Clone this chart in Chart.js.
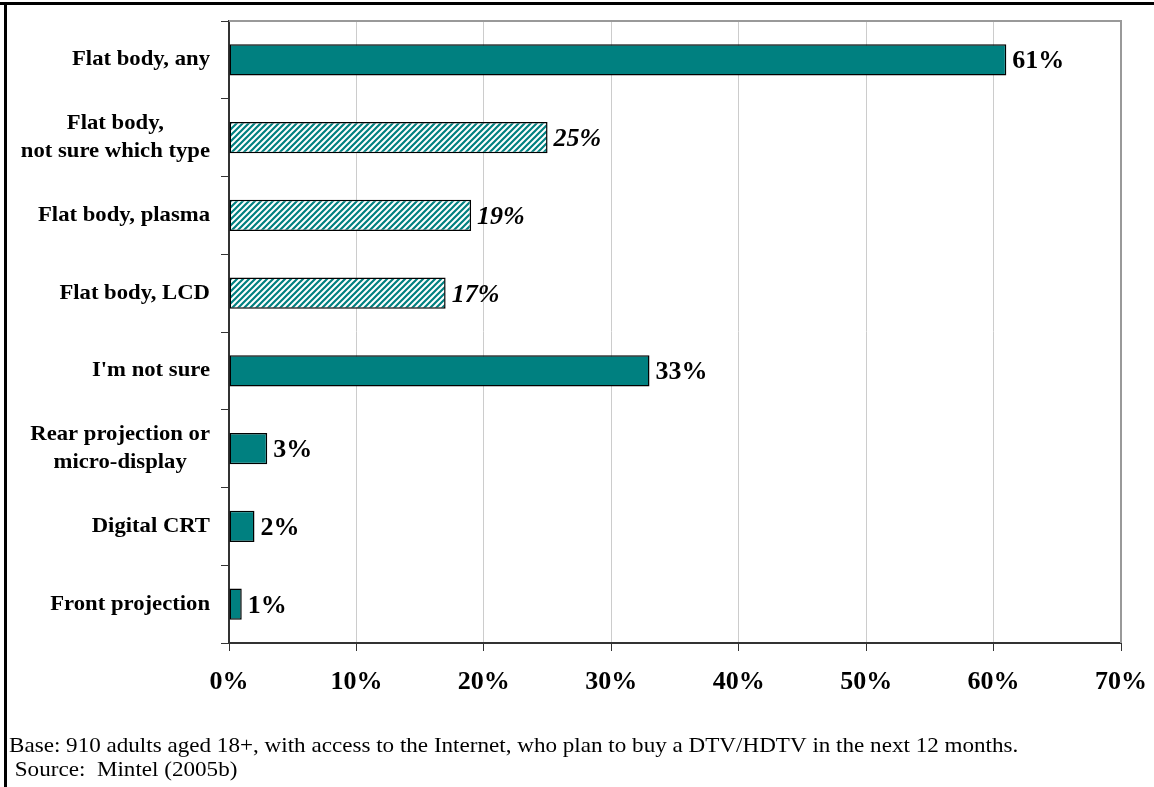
<!DOCTYPE html>
<html>
<head>
<meta charset="utf-8">
<script src="https://cdn.jsdelivr.net/npm/chart.js@4/dist/chart.umd.min.js"></script>
<style>
  html, body { margin: 0; padding: 0; background: #fff; }
  #wrap { position: relative; width: 1154px; height: 787px; }
</style>
</head>
<body>
<div id="wrap"><canvas id="tvChart" width="1154" height="787"></canvas></div>
<script>
// TV type planned for purchase, share of respondents
const categories = [
  ['Flat body, any'],
  ['Flat body,', 'not sure which type'],
  ['Flat body, plasma'],
  ['Flat body, LCD'],
  ["I'm not sure"],
  ['Rear projection or', 'micro-display'],
  ['Digital CRT'],
  ['Front projection']
];
const values = [61, 25, 19, 17, 33, 3, 2, 1];
// sub-types of flat body sets are drawn hatched
const hatched = [false, true, true, true, false, false, false, false];
const xMin = 0, xMax = 70, xStep = 10;

const footnotes = [
  'Base: 910 adults aged 18+, with access to the Internet, who plan to buy a DTV/HDTV in the next 12 months.',
  ' Source:  Mintel (2005b)'
];

const TEAL = '#008080';
const SERIF = '"Liberation Serif", "Times New Roman", serif';

const canvas = document.getElementById('tvChart');
const ctx = canvas.getContext('2d');

function makeHatch() {
  const s = 6;
  const c = document.createElement('canvas');
  c.width = s; c.height = s;
  const g = c.getContext('2d');
  g.fillStyle = '#fff';
  g.fillRect(0, 0, s, s);
  g.strokeStyle = TEAL;
  g.lineWidth = 2.2;
  g.beginPath();
  g.moveTo(0, s); g.lineTo(s, 0);
  g.moveTo(-1, 1); g.lineTo(1, -1);
  g.moveTo(s - 1, s + 1); g.lineTo(s + 1, s - 1);
  g.stroke();
  return ctx.createPattern(c, 'repeat');
}
const hatch = makeHatch();

// text drawn a touch wider than the stock serif
function wideText(c, text, x, y, align, sx) {
  const w = c.measureText(text).width * sx;
  let left = x;
  if (align === 'right') left = x - w;
  else if (align === 'center') left = x - w / 2;
  c.save();
  c.translate(left, y);
  c.scale(sx, 1);
  c.textAlign = 'left';
  c.fillText(text, 0, 0);
  c.restore();
}

const decor = {
  id: 'decor',
  afterDraw(chart) {
    const c = chart.ctx;
    const area = chart.chartArea;
    const y = chart.scales.y;
    const x = chart.scales.x;
    c.save();

    // page frame
    c.fillStyle = '#000';
    c.fillRect(0, 2, 1154, 3);
    c.fillRect(4, 3, 3, 784);

    // plot frame top and right
    c.strokeStyle = '#999';
    c.lineWidth = 2;
    c.beginPath();
    c.moveTo(area.left, area.top);
    c.lineTo(area.right, area.top);
    c.lineTo(area.right, area.bottom);
    c.stroke();

    // category labels: single lines right aligned, wrapped ones centred
    c.fillStyle = '#000';
    c.font = 'bold 21px ' + SERIF;
    c.textBaseline = 'middle';
    const sx = 1.08;
    const labelRight = 210;
    const lineGap = 28;
    categories.forEach((lines, i) => {
      const cy = y.getPixelForValue(i);
      if (lines.length === 1) {
        wideText(c, lines[0], labelRight, cy, 'right', sx);
      } else {
        const w = Math.max(...lines.map(t => c.measureText(t).width)) * sx;
        const cx = labelRight - w / 2;
        lines.forEach((t, k) => {
          wideText(c, t, cx, cy + (k - (lines.length - 1) / 2) * lineGap, 'center', sx);
        });
      }
    });

    // value labels
    values.forEach((v, i) => {
      c.font = (hatched[i] ? 'italic bold 25px ' : 'bold 25px ') + SERIF;
      wideText(c, v + '%', x.getPixelForValue(v) + 6, y.getPixelForValue(i) + 2, 'left', 1.04);
    });

    // footnotes
    c.font = '22px ' + SERIF;
    wideText(c, footnotes[0], 9, 746, 'left', 1.05);
    wideText(c, footnotes[1], 9, 770, 'left', 1.05);
    c.restore();
  }
};

new Chart(ctx, {
  type: 'bar',
  data: {
    labels: categories,
    datasets: [{
      data: values,
      backgroundColor: hatched.map(h => h ? hatch : TEAL),
      borderColor: '#000',
      borderWidth: 1.5,
      borderSkipped: false,
      categoryPercentage: 1,
      barPercentage: 0.4
    }]
  },
  options: {
    indexAxis: 'y',
    responsive: false,
    animation: false,
    layout: { padding: { top: 21, right: 33, left: 0, bottom: 0 } },
    plugins: { legend: { display: false }, tooltip: { enabled: false } },
    scales: {
      x: {
        min: xMin,
        max: xMax,
        afterFit: s => { s.height = 144; s.paddingLeft = 0; s.paddingRight = 0; },
        ticks: {
          stepSize: xStep,
          padding: 16,
          color: '#000',
          font: { family: SERIF, size: 26, weight: 'bold' },
          callback: v => v + '%'
        },
        grid: { color: '#cccccc', lineWidth: 1, tickColor: '#333', tickLength: 8 },
        border: { color: '#333', width: 2 }
      },
      y: {
        afterFit: s => { s.width = 229; },
        ticks: { display: false },
        grid: { drawOnChartArea: false, drawTicks: true, tickLength: 8, color: '#333', offset: true },
        border: { color: '#333', width: 2 }
      }
    }
  },
  plugins: [decor]
});
</script>
</body>
</html>
